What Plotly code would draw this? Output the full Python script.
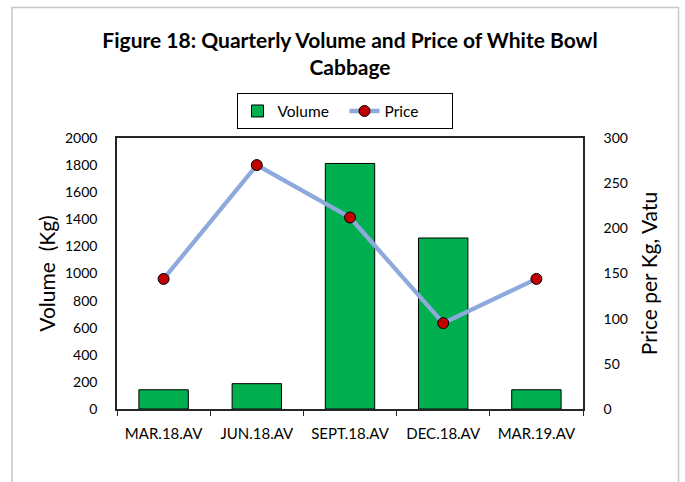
import plotly.graph_objects as go

categories = ["MAR.18.AV", "JUN.18.AV", "SEPT.18.AV", "DEC.18.AV", "MAR.19.AV"]
volume_kg = [142, 187, 1812, 1262, 142]
price_vatu = [144, 270, 212, 95, 144]
volume_ticks = list(range(0, 2001, 200))
price_ticks = list(range(0, 301, 50))

FONT = "Lato"
W, H = 685, 482
ML, MR, MT, MB = 117, 102, 138, 73
PW = W - ML - MR
PH = H - MT - MB

def px_x(p):
    return (p - ML) / PW

def px_y(p):
    return (H - MB - p) / PH

fig = go.Figure()
fig.add_trace(go.Bar(
    x=categories, y=volume_kg, name="Volume",
    marker=dict(color="#00B050", line=dict(color="black", width=1)),
    yaxis="y",
))
fig.add_trace(go.Scatter(
    x=categories, y=price_vatu, name="Price", mode="lines+markers",
    line=dict(color="#8EA9DB", width=4.3),
    marker=dict(color="#C00000", size=11, line=dict(color="black", width=1)),
    yaxis="y2",
))

fig.update_layout(
    width=W, height=H,
    margin=dict(l=ML, r=MR, t=MT, b=MB),
    paper_bgcolor="white", plot_bgcolor="white",
    font=dict(family=FONT, color="black", size=14),
    bargap=0.47,
    title=dict(
        text="<b>Figure 18: Quarterly Volume and Price of White Bowl<br>Cabbage</b>",
        x=0.5, xanchor="center", xref="paper",
        y=1 - 48 / H, yanchor="middle", yref="container",
        font=dict(family=FONT, size=21, color="black"),
    ),
    legend=dict(
        orientation="h", x=px_x(344.5), xanchor="center",
        y=px_y(111.4), yanchor="middle",
        bordercolor="black", borderwidth=1, bgcolor="white",
        font=dict(family=FONT, size=15.5),
        entrywidth=62, entrywidthmode="pixels",
    ),
    xaxis=dict(
        type="category", showline=True, linecolor="#262626", linewidth=1.5,
        mirror=True, ticks="outside", tickson="boundaries", ticklen=5,
        tickcolor="#262626", showgrid=False, ticklabelstandoff=10,
        tickfont=dict(family=FONT, size=15),
    ),
    yaxis=dict(
        range=[0, 2000], tickvals=volume_ticks, showline=True,
        linecolor="#262626", linewidth=1.5, mirror=True, showgrid=False,
        zeroline=False, ticks="", ticklabelstandoff=15,
        tickfont=dict(family=FONT, size=14),
        title=dict(text="Volume\u00a0 (Kg)", font=dict(family=FONT, size=21), standoff=4),
    ),
    yaxis2=dict(
        range=[0, 300], tickvals=price_ticks, overlaying="y", side="right",
        showline=True, linecolor="#262626", linewidth=1.5, showgrid=False,
        zeroline=False, ticks="", ticklabelstandoff=16,
        tickfont=dict(family=FONT, size=14),
        title=dict(text="Price per Kg, Vatu", font=dict(family=FONT, size=21), standoff=15),
    ),
    shapes=[dict(
        type="rect", xref="paper", yref="paper",
        x0=px_x(12), x1=px_x(678.5), y0=px_y(500), y1=px_y(7.5),
        line=dict(color="#C8C8C8", width=1.5), fillcolor="rgba(0,0,0,0)",
        layer="below",
    )],
)

fig.write_html(
    "out.html",
    config={"displayModeBar": False},
    post_script="document.body.style.margin='0';document.body.style.overflow='hidden';",
)
